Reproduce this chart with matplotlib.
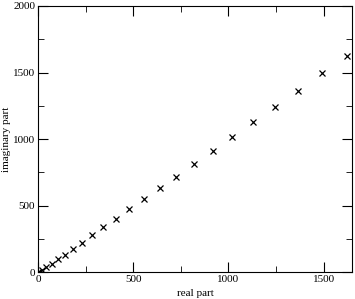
import matplotlib
matplotlib.use("Agg")
import matplotlib.pyplot as plt
from matplotlib.ticker import MultipleLocator

real_part = [0, 7, 21, 42, 73, 105, 140, 182, 232, 286, 342, 408, 479, 555, 639,
             726, 817, 918, 1019, 1131, 1246, 1366, 1494, 1625]
imag_part = [0, 2, 15, 35, 60, 95, 130, 171, 220, 276, 336, 398, 475, 549, 629,
             717, 812, 910, 1017, 1128, 1243, 1363, 1494, 1626]

plt.rcParams['font.family'] = ['Liberation Serif', 'DejaVu Serif']
fig = plt.figure(figsize=(3.55, 2.99), dpi=100)
ax = fig.add_axes([0.107, 0.090, 0.885, 0.890])
ax.plot(real_part, imag_part, linestyle='none', marker='x', color='black',
        markersize=4.5, markeredgewidth=0.9)
ax.set_xlim(0, 1650)
ax.set_ylim(0, 2000)
ax.xaxis.set_major_locator(MultipleLocator(500))
ax.xaxis.set_minor_locator(MultipleLocator(250))
ax.yaxis.set_major_locator(MultipleLocator(500))
ax.yaxis.set_minor_locator(MultipleLocator(250))
ax.tick_params(which='both', direction='in', top=True, right=True, labelsize=8, pad=2)
ax.tick_params(which='major', length=7)
ax.tick_params(which='minor', length=4)
ax.set_xlabel('real part', fontsize=8)
ax.set_ylabel('imaginary part', fontsize=8)
ax.xaxis.set_label_coords(0.5, -0.065)
ax.yaxis.set_label_coords(-0.085, 0.5)
fig.savefig('out.png', dpi=100)
